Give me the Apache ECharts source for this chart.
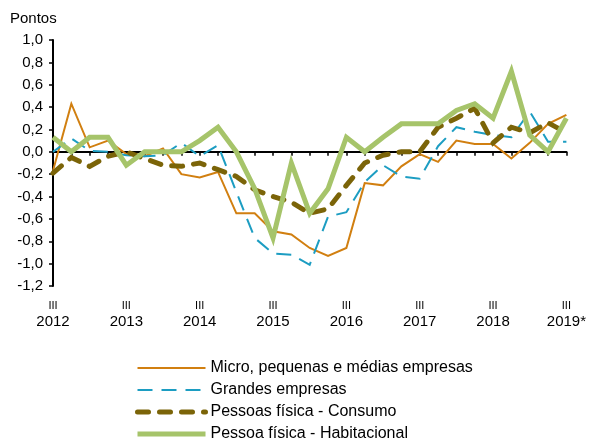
<!DOCTYPE html>
<html>
<head>
<meta charset="utf-8">
<script src="https://cdn.jsdelivr.net/npm/echarts@6/dist/echarts.min.js"></script>
<style>
  html, body { margin: 0; padding: 0; background: #fff; }
  #chart { width: 589px; height: 441px; }
</style>
</head>
<body>
<div id="chart"></div>
<script>
// trimestres, de III/2012 a III/2019
const quarters = [
  'III 2012', 'IV 2012',
  'I 2013', 'II 2013', 'III 2013', 'IV 2013',
  'I 2014', 'II 2014', 'III 2014', 'IV 2014',
  'I 2015', 'II 2015', 'III 2015', 'IV 2015',
  'I 2016', 'II 2016', 'III 2016', 'IV 2016',
  'I 2017', 'II 2017', 'III 2017', 'IV 2017',
  'I 2018', 'II 2018', 'III 2018', 'IV 2018',
  'I 2019', 'II 2019', 'III 2019*'
];

const micro = [-0.17, 0.43, 0.04, 0.10, -0.02, -0.04, 0.03, -0.20, -0.23, -0.18,
  -0.55, -0.55, -0.71, -0.74, -0.86, -0.93, -0.86, -0.28, -0.30, -0.13,
  -0.02, -0.09, 0.10, 0.07, 0.07, -0.06, 0.08, 0.25, 0.33];
const grandes = [0.00, 0.12, 0.01, 0.00, -0.03, -0.04, -0.03, 0.08, -0.04, 0.06,
  -0.36, -0.77, -0.91, -0.92, -1.01, -0.58, -0.54, -0.27, -0.12, -0.22,
  -0.24, 0.05, 0.22, 0.18, 0.15, 0.13, 0.36, 0.09, 0.09];
const consumo = [-0.19, -0.05, -0.13, -0.04, 0.00, -0.06, -0.12, -0.13, -0.10, -0.16,
  -0.22, -0.34, -0.40, -0.45, -0.55, -0.51, -0.30, -0.10, -0.03, 0.00,
  0.00, 0.22, 0.30, 0.39, 0.08, 0.22, 0.17, 0.26, 0.17];
const habitacional = [0.13, 0.00, 0.13, 0.13, -0.12, 0.00, 0.00, 0.00, 0.10, 0.22,
  0.00, -0.33, -0.77, -0.10, -0.55, -0.33, 0.13, 0.00, 0.13, 0.25,
  0.25, 0.25, 0.37, 0.43, 0.30, 0.72, 0.15, 0.00, 0.30];

const yMin = -1.2, yMax = 1.0, yStep = 0.2;

const font = 'Liberation Sans, Arial, sans-serif';
const chart = echarts.init(document.getElementById('chart'));

function line(name, data, color, width, dash) {
  return {
    name: name,
    type: 'line',
    data: data,
    xAxisIndex: 0,
    showSymbol: false,
    lineStyle: {
      color: color,
      width: width,
      type: dash || 'solid',
      cap: dash && width > 3 ? 'round' : 'butt',
      join: 'miter'
    },
    itemStyle: { color: color },
    animation: false
  };
}

chart.setOption({
  backgroundColor: '#fff',
  textStyle: { fontFamily: font },
  title: {
    text: 'Pontos',
    left: 5,
    top: 6,
    textStyle: { fontSize: 15, fontWeight: 'normal', color: '#000', fontFamily: font }
  },
  grid: { left: 53, right: 20, top: 40, bottom: 155, containLabel: false },
  legend: {
    orient: 'vertical',
    left: 135,
    top: 360,
    height: 100,
    padding: 0,
    itemWidth: 68,
    itemHeight: 14,
    itemGap: 6,
    itemStyle: { opacity: 0 },
    lineStyle: { width: 'inherit', type: 'inherit', cap: 'inherit' },
    textStyle: { fontSize: 16, color: '#000', fontFamily: font },
    data: [
      'Micro, pequenas e médias empresas',
      'Grandes empresas',
      'Pessoas física - Consumo',
      'Pessoa física - Habitacional'
    ]
  },
  xAxis: [
    {
      type: 'category',
      data: quarters,
      boundaryGap: false,
      position: 'bottom',
      axisLine: { show: false, onZero: false },
      axisTick: { show: false },
      axisLabel: {
        interval: 3,
        margin: 13,
        color: '#000',
        formatter: function (v) {
          const p = v.split(' ');
          return '{q|' + p[0] + '}\n{y|' + p[1] + '}';
        },
        rich: {
          q: { fontSize: 11, lineHeight: 14, color: '#000', fontFamily: font },
          y: { fontSize: 15, lineHeight: 18, color: '#000', fontFamily: font }
        }
      }
    },
    {
      type: 'category',
      data: quarters,
      boundaryGap: false,
      position: 'top',
      axisLine: { show: true, onZero: true, lineStyle: { color: '#000', width: 2 } },
      axisTick: { show: true, inside: true, interval: 0, length: 4, lineStyle: { color: '#000', width: 1.5 } },
      axisLabel: { show: false }
    }
  ],
  yAxis: {
    type: 'value',
    min: yMin,
    max: yMax,
    interval: yStep,
    axisLine: { show: true, onZero: false, lineStyle: { color: '#000', width: 2 } },
    axisTick: { show: true, length: 4, lineStyle: { color: '#000', width: 1.5 } },
    splitLine: { show: false },
    axisLabel: {
      margin: 10,
      fontSize: 15,
      color: '#000',
      fontFamily: font,
      formatter: function (v) { return v.toFixed(1).replace('.', ','); }
    }
  },
  series: [
    line('Micro, pequenas e médias empresas', micro, '#D17F10', 2),
    line('Grandes empresas', grandes, '#1C9DC2', 2, [15, 9]),
    line('Pessoas física - Consumo', consumo, '#7B6408', 5, [11, 11]),
    line('Pessoa física - Habitacional', habitacional, '#A6C46A', 5)
  ]
});
</script>
</body>
</html>
